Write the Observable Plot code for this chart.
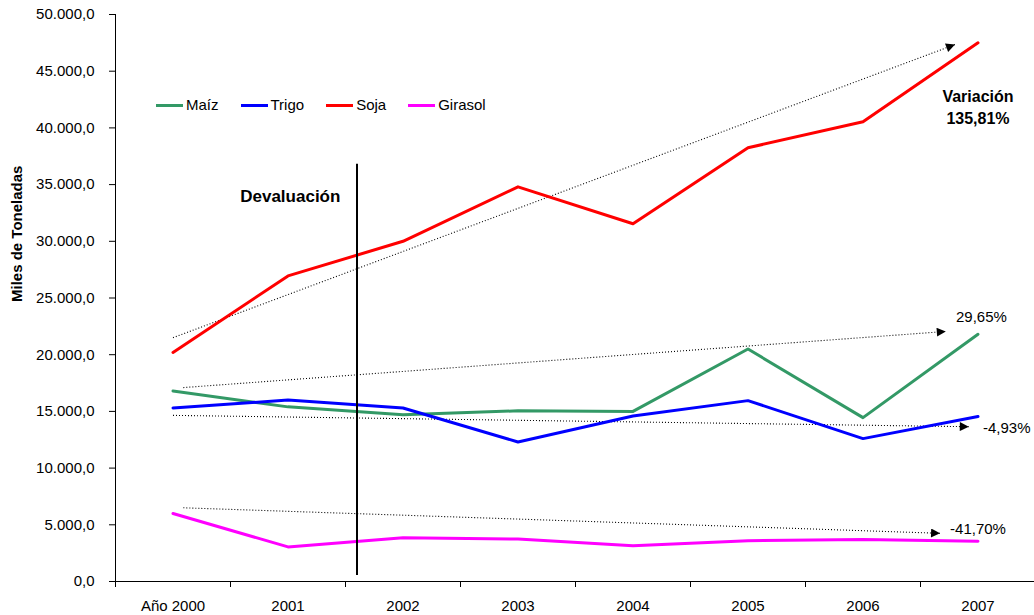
<!DOCTYPE html>
<html>
<head>
<meta charset="utf-8">
<script src="https://cdn.jsdelivr.net/npm/d3@7"></script>
<script src="https://cdn.jsdelivr.net/npm/@observablehq/plot@0.6"></script>
<style>
  html, body { margin: 0; padding: 0; background: white; }
  #wrap { position: relative; width: 1034px; height: 615px; font-family: "Liberation Sans", Arial, sans-serif; }
  #legend { position: absolute; left: 156px; top: 96px; display: flex; font-size: 15px; line-height: 18px; color: #000; }
  .item { display: flex; align-items: center; margin-right: 22px; }
  .sw { width: 27px; height: 3px; margin-right: 3px; }
</style>
</head>
<body>
<div id="wrap"><div id="legend"></div></div>
<script>
// ---- data ----
const years = ["Año 2000", "2001", "2002", "2003", "2004", "2005", "2006", "2007"];
const seriesNames = ["Maíz", "Trigo", "Soja", "Girasol"];
const seriesColors = ["#339966", "#0000ff", "#ff0000", "#ff00ff"];
const maiz    = [16800, 15400, 14700, 15050, 15000, 20500, 14450, 21800];
const trigo   = [15300, 16000, 15300, 12300, 14600, 15950, 12600, 14550];
const soja    = [20200, 26950, 30000, 34800, 31550, 38250, 40550, 47500];
const girasol = [6000, 3050, 3850, 3750, 3150, 3600, 3700, 3550];
const yTicks = [0, 5000, 10000, 15000, 20000, 25000, 30000, 35000, 40000, 45000, 50000];
const yTitle = "Miles de Toneladas";

// trend arrows (Maíz, Trigo, Soja, Girasol), in year-index / value units
const trendX1 = [0.09, 0.0, 0.0, 0.09];
const trendY1 = [17100, 14650, 21500, 6500];
const trendX2 = [6.72, 6.92, 6.80, 6.67];
const trendY2 = [22050, 13650, 47350, 4250];
const trendLabels = ["29,65%", "-4,93%", "Variación\n135,81%", "-41,70%"];
const labelX = [7.03, 7.25, 7.0, 7.0];
const labelY = [23280, 13490, 41975, 4590];

const devalText = "Devaluación";
const devalLineX = 1.6;
const devalLineY1 = 530;
const devalLineY2 = 36800;
const devalTextX = 1.02;
const devalTextY = 33950;

// ---- build tables ----
const seriesValues = [maiz, trigo, soja, girasol];
const table = [];
seriesNames.forEach((s, k) => seriesValues[k].forEach((v, i) => table.push({serie: s, i, value: v})));
const trends = seriesNames.map((s, k) => ({serie: s, x1: trendX1[k], y1: trendY1[k], x2: trendX2[k], y2: trendY2[k], label: trendLabels[k], lx: labelX[k], ly: labelY[k]}));

const fmt = d3.formatLocale({decimal: ",", thousands: ".", grouping: [3], currency: ["", ""]}).format(",.1f");

const svg = Plot.plot({
  width: 1034, height: 615,
  marginTop: 14, marginBottom: 34, marginLeft: 115, marginRight: 0,
  style: {fontFamily: "Liberation Sans, Arial, sans-serif", fontSize: "15px", color: "#000", background: "white", overflow: "visible"},
  x: {domain: [-0.5, 7.5], range: [115, 1035]},
  y: {domain: [0, 50000]},
  color: {domain: seriesNames, range: seriesColors},
  marks: [
    Plot.axisY({ticks: yTicks, tickFormat: fmt, tickSize: 6, tickPadding: 15, label: null, fontSize: 15}),
    Plot.axisX({ticks: d3.range(-0.5, 7.5, 1), tickFormat: () => "", tickSize: 6, label: null}),
    Plot.axisX({ticks: d3.range(0, years.length), tickFormat: i => years[i], tickSize: 0, tickPadding: 19, label: null, fontSize: 15}),
    Plot.ruleX([-0.5], {y1: 0, y2: 50000, stroke: "#000"}),
    Plot.ruleY([0], {stroke: "#000"}),
    Plot.text([yTitle], {frameAnchor: "left", dx: -98, dy: 4, rotate: -90, fontWeight: "bold", fontSize: 15}),
    Plot.link(trends, {x1: "x1", y1: "y1", x2: "x2", y2: "y2", stroke: "#000", strokeWidth: 1.1, strokeDasharray: "1,2"}),
    Plot.lineY(table, {x: "i", y: "value", z: "serie", stroke: "serie", strokeWidth: 3}),
    Plot.ruleX([devalLineX], {y1: devalLineY1, y2: devalLineY2, stroke: "#000", strokeWidth: 2}),
    Plot.text([devalText], {x: devalTextX, y: devalTextY, fontWeight: "bold", fontSize: 17}),
    Plot.text(trends.filter(d => d.serie !== "Soja"), {x: "lx", y: "ly", text: "label", fontSize: 15}),
    Plot.text(trends.filter(d => d.serie === "Soja"), {x: "lx", y: "ly", text: "label", fontSize: 16, fontWeight: "bold", lineHeight: 1.38})
  ]
});

// filled arrowheads on the trend links
const defs = d3.select(svg).insert("defs", ":first-child");
defs.append("marker")
  .attr("id", "triHead")
  .attr("viewBox", "0 0 10 10")
  .attr("refX", 10).attr("refY", 5)
  .attr("markerUnits", "userSpaceOnUse")
  .attr("markerWidth", 10).attr("markerHeight", 9)
  .attr("orient", "auto")
  .append("path").attr("d", "M0,0L10,5L0,10Z").attr("fill", "#000").attr("stroke", "none");
d3.select(svg).selectAll('g[aria-label="link"] path').attr("marker-end", "url(#triHead)");

document.getElementById("wrap").prepend(svg);

// legend
const legend = d3.select("#legend");
seriesNames.forEach((s, k) => {
  const it = legend.append("div").attr("class", "item");
  it.append("div").attr("class", "sw").style("background", seriesColors[k]);
  it.append("span").text(s);
});
</script>
</body>
</html>
